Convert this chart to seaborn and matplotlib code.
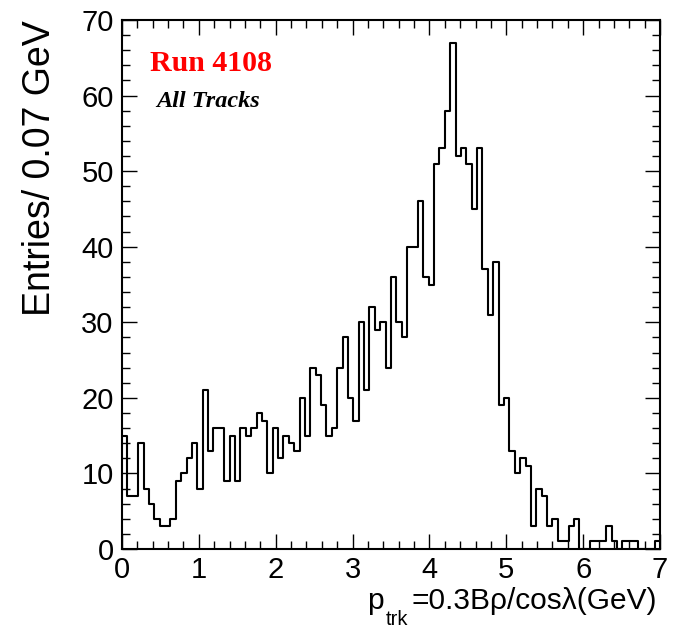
import numpy as np
import matplotlib
matplotlib.use('Agg')
import matplotlib.pyplot as plt
import seaborn as sns
from matplotlib.ticker import MultipleLocator

# entries per 0.07 GeV bin (0 -> 7 GeV)
counts = [15, 7, 7, 14, 8, 6, 4, 3, 3, 4,
          9, 10, 12, 14, 8, 21, 13, 16, 16, 9,
          15, 9, 16, 15, 16, 18, 17, 10, 16, 12,
          15, 14, 13, 20, 15, 24, 23, 19, 15, 16,
          24, 28, 20, 17, 30, 21, 32, 29, 30, 24,
          36, 30, 28, 40, 40, 46, 36, 35, 51, 53,
          58, 67, 52, 53, 51, 45, 53, 37, 31, 38,
          19, 20, 13, 10, 12, 11, 3, 8, 7, 3,
          4, 1, 1, 3, 4, 0, 0, 1, 1, 1,
          3, 1, 0, 1, 1, 1, 0, 0, 0, 1]
x_min, x_max = 0.0, 7.0
y_max = 70
run_label = 'Run 4108'
sel_label = 'All Tracks'

n_bins = len(counts)
bin_width = (x_max - x_min) / n_bins
centers = x_min + bin_width * (np.arange(n_bins) + 0.5)

sns.set_style('ticks', {'text.color': 'black', 'xtick.color': 'black',
                        'ytick.color': 'black', 'axes.labelcolor': 'black',
                        'axes.edgecolor': 'black'})
plt.rcParams['font.family'] = ['Liberation Sans', 'DejaVu Sans']

W, H = 673, 630
fig = plt.figure(figsize=(W / 100, H / 100), dpi=100)
ax = fig.add_axes([122 / W, 1 - 549 / H, 538 / W, 529 / H])

sns.histplot(x=centers, weights=counts, bins=n_bins, binrange=(x_min, x_max),
             element='step', fill=False, color='black', linewidth=1.5, ax=ax)

ax.set_xlim(x_min, x_max)
ax.set_ylim(0, y_max)
ax.set_xlabel('')
ax.set_ylabel('')

# ROOT-like frame: ticks inside on all four sides
ax.xaxis.set_major_locator(MultipleLocator(1))
ax.xaxis.set_minor_locator(MultipleLocator(0.2))
ax.yaxis.set_major_locator(MultipleLocator(10))
ax.yaxis.set_minor_locator(MultipleLocator(2))
ax.tick_params(which='both', direction='in', top=True, right=True, color='black')
ax.tick_params(which='major', length=11, width=1, labelsize=21)
ax.tick_params(axis='x', which='major', pad=5)
ax.tick_params(axis='y', which='major', pad=6)
ax.tick_params(which='minor', length=5.5, width=1)
for s in ax.spines.values():
    s.set_linewidth(1.5)
    s.set_color('black')

# axis titles, ROOT style (y at top, x at right)
fig.text(40 / W, 1 - 20 / H, 'Entries/ 0.07 GeV', rotation=90,
         ha='center', va='top', fontsize=27)

r = fig.canvas.get_renderer()
t_rest = fig.text(657 / W, 1 - 609 / H, '=0.3Bρ/cosλ(GeV)',
                  ha='right', va='baseline', fontsize=21.5)
bb = t_rest.get_window_extent(r)
t_sub = fig.text((bb.x0 - 3) / W, 1 - 625 / H, 'trk',
                 ha='right', va='baseline', fontsize=14.5)
bb2 = t_sub.get_window_extent(r)
fig.text((bb2.x0 - 2) / W, 1 - 609 / H, 'p',
         ha='right', va='baseline', fontsize=21.5)

serif = ['Liberation Serif', 'DejaVu Serif']
fig.text(150 / W, 1 - 71 / H, run_label, color='red', fontsize=21.5,
         fontweight='bold', family=serif)
fig.text(156 / W, 1 - 107 / H, sel_label, color='black', fontsize=17.5,
         fontweight='bold', fontstyle='italic', family=serif)

plt.savefig('out.png', dpi=100)
